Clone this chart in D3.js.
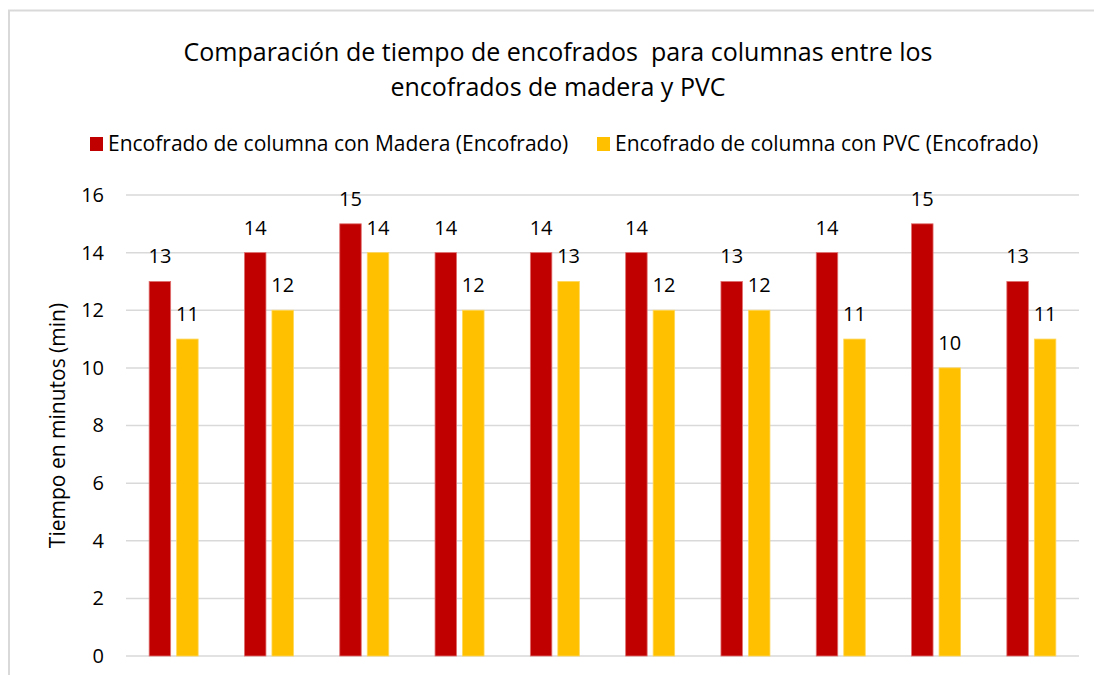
<!DOCTYPE html>
<html>
<head>
<meta charset="utf-8">
<script src="https://cdn.jsdelivr.net/npm/d3@7"></script>
<style>
  body { margin: 0; background: #fff; }
  svg text { font-family: "Open Sans", Lato, sans-serif; fill: #000; white-space: pre; }
</style>
</head>
<body>
<svg id="chart" width="1094" height="675"></svg>
<script>
// chart data
const categories = ["1", "2", "3", "4", "5", "6", "7", "8", "9", "10"]
const madera = [13, 14, 15, 14, 14, 14, 13, 14, 15, 13]
const pvc = [11, 12, 14, 12, 13, 12, 12, 11, 10, 11]
const seriesNames = ["Encofrado de columna con Madera (Encofrado)", "Encofrado de columna con PVC (Encofrado)"]
const seriesColors = ["#C00000", "#FFC000"]
const yTicks = [0, 2, 4, 6, 8, 10, 12, 14, 16]
const titleLines = ["Comparación de tiempo de encofrados  para columnas entre los", "encofrados de madera y PVC"]
const yTitle = "Tiempo en minutos (min)"

const svg = d3.select("#chart")

// outer frame (only left and top are visible, the picture is cropped)
svg.append("path")
    .attr("d", "M9,680 L9,10.5 L1100,10.5")
    .attr("fill", "none")
    .attr("stroke", "#d9d9d9")
    .attr("stroke-width", 2)

const plot = { left: 126, right: 1079, top: 195, bottom: 656 }

const x = d3.scaleBand().domain(categories).range([plot.left, plot.right])
const y = d3.scaleLinear().domain([0, 16]).range([plot.bottom, plot.top])

const barW = 21.5
const gap = 6

// title
svg.selectAll("text.title")
    .data(titleLines)
    .join("text")
    .attr("class", "title")
    .attr("x", 558)
    .attr("y", (d, i) => 61 + i * 35)
    .attr("text-anchor", "middle")
    .style("font-size", "25px")
    .text(d => d)

// legend
const legendX = [90, 597]
const lg = svg.selectAll("g.legend")
    .data(seriesNames)
    .join("g")
    .attr("class", "legend")
    .attr("transform", (d, i) => `translate(${legendX[i]},137)`)
lg.append("rect")
    .attr("width", 13)
    .attr("height", 14)
    .attr("fill", (d, i) => seriesColors[i])
lg.append("text")
    .attr("x", 18)
    .attr("y", 14)
    .style("font-size", "21px")
    .text(d => d)

// grid lines
svg.append("g")
    .selectAll("line")
    .data(yTicks)
    .join("line")
    .attr("x1", plot.left)
    .attr("x2", plot.right)
    .attr("y1", d => y(d))
    .attr("y2", d => y(d))
    .attr("stroke", "#d9d9d9")
    .attr("stroke-width", 1.5)

// y axis labels
const yAxis = svg.append("g")
    .attr("transform", `translate(${plot.left - 14},0)`)
    .call(d3.axisLeft(y).tickValues(yTicks).tickSize(0).tickPadding(8))
yAxis.select(".domain").remove()
yAxis.selectAll("text")
    .style("font-size", "20px")
    .style("font-family", "'Open Sans', sans-serif")
    .attr("fill", "#000")

// y axis title
svg.append("text")
    .attr("transform", `translate(65,${(plot.top + plot.bottom) / 2}) rotate(-90)`)
    .attr("text-anchor", "middle")
    .style("font-size", "21px")
    .text(yTitle)

// bars
const series = [madera, pvc]
series.forEach((vals, s) => {
    const offset = s === 0 ? -(barW + gap / 2) : gap / 2
    const g = svg.append("g")
    g.selectAll("rect")
        .data(vals)
        .join("rect")
        .attr("x", (d, i) => x(categories[i]) + x.bandwidth() / 2 + offset)
        .attr("y", d => y(d))
        .attr("width", barW)
        .attr("height", d => y(0) - y(d))
        .attr("fill", seriesColors[s])
        .attr("stroke", s === 0 ? "#e07070" : "#ffd75a")
        .attr("stroke-width", 0.8)
    g.selectAll("text")
        .data(vals)
        .join("text")
        .attr("x", (d, i) => x(categories[i]) + x.bandwidth() / 2 + offset + barW / 2)
        .attr("y", d => y(d) - 18)
        .attr("text-anchor", "middle")
        .style("font-size", "20px")
        .text(d => d)
})
</script>
</body>
</html>
